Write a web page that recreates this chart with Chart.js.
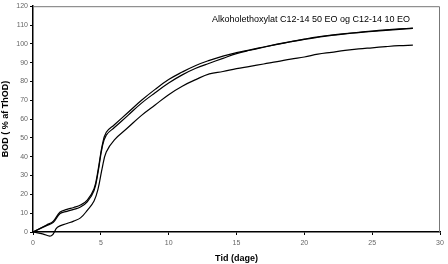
<!DOCTYPE html>
<html>
<head>
<meta charset="utf-8">
<script src="https://cdn.jsdelivr.net/npm/chart.js@4/dist/chart.umd.min.js"></script>
<style>
  html, body { margin: 0; padding: 0; background: #fff; }
  #wrap { width: 448px; height: 264px; }
</style>
</head>
<body>
<div id="wrap"><canvas id="graphic" width="448" height="264"></canvas></div>
<script>
// Data
const daysAB = [0, 1, 1.5, 2, 2.5, 3, 3.5, 4, 4.5, 4.8, 5.1, 5.4, 6, 7, 8, 9, 10, 11, 12, 13, 14, 15, 16, 17, 18, 19, 20, 21, 22, 23, 24, 25, 26, 27, 28];
const seriesA = [0, 3.7, 5.8, 10.6, 12, 13, 14.3, 17, 23, 33, 46, 53, 57, 63.5, 70, 75.8, 81, 85, 88.5, 91.2, 93.5, 95.3, 96.8, 98.3, 99.8, 101.2, 102.5, 103.7, 104.7, 105.4, 106.1, 106.8, 107.4, 107.9, 108.4];
const seriesB = [0, 3.4, 5.2, 9.8, 11, 12, 13.3, 16, 22, 32, 45, 51.5, 55.5, 62, 68.5, 74, 79.2, 83.5, 87, 89.7, 92.3, 94.8, 96.6, 98.2, 99.7, 101.1, 102.4, 103.5, 104.5, 105.3, 106, 106.6, 107.2, 107.7, 108.2];
const daysC = [0, 0.7, 1.35, 1.8, 2.5, 3, 3.5, 4, 4.5, 4.8, 5.1, 5.4, 6, 7, 8, 9, 10, 11, 12, 13, 14, 15, 16, 17, 18, 19, 20, 21, 22, 23, 24, 25, 26, 27, 28];
const seriesC = [0, -1, -2, 2.5, 4.5, 5.8, 7.5, 11.5, 16.5, 23, 34, 42.5, 49, 55.5, 62, 67.5, 73, 77.5, 81, 84, 85.3, 86.8, 88, 89.3, 90.5, 91.9, 93, 94.5, 95.5, 96.5, 97.3, 97.9, 98.5, 99, 99.3];

const xTicks = [0, 5, 10, 15, 20, 25, 30];
const yTicks = [0, 10, 20, 30, 40, 50, 60, 70, 80, 90, 100, 110, 120];
const label = 'Alkoholethoxylat C12-14 50 EO og C12-14 10 EO';

const toPoints = (xs, ys) => xs.map((x, i) => ({ x: x, y: ys[i] }));

const lineStyle = {
  borderColor: '#000',
  borderWidth: 1.2,
  pointRadius: 0,
  tension: 0.4,
  fill: false,
  clip: false
};

// frame + label
const framePlugin = {
  id: 'frame',
  afterDraw(chart) {
    const { ctx, chartArea: a } = chart;
    ctx.save();
    ctx.strokeStyle = '#777';
    ctx.lineWidth = 1;
    ctx.beginPath();
    ctx.moveTo(a.left, a.top + 0.5);
    ctx.lineTo(a.right - 0.5, a.top + 0.5);
    ctx.lineTo(a.right - 0.5, a.bottom);
    ctx.stroke();
    ctx.fillStyle = '#000';
    ctx.font = '9px "Liberation Sans", Arial, sans-serif';
    ctx.textBaseline = 'middle';
    ctx.fillText(label, 212, 20);
    ctx.restore();
  }
};

const tickFont = { family: '"Liberation Sans", Arial, sans-serif', size: 7 };
const titleFont = { family: '"Liberation Sans", Arial, sans-serif', size: 9, weight: 'bold' };

new Chart(document.querySelector('#graphic'), {
  type: 'line',
  data: {
    datasets: [
      Object.assign({ label: 'A', data: toPoints(daysAB, seriesA) }, lineStyle),
      Object.assign({ label: 'B', data: toPoints(daysAB, seriesB) }, lineStyle),
      Object.assign({ label: 'C', data: toPoints(daysC, seriesC) }, lineStyle)
    ]
  },
  options: {
    responsive: false,
    animation: false,
    layout: { padding: { top: 5, right: 8, left: 0, bottom: 0 } },
    plugins: { legend: { display: false }, tooltip: { enabled: false } },
    scales: {
      x: {
        type: 'linear',
        min: 0,
        max: 30,
        afterBuildTicks: (s) => { s.ticks = xTicks.map(v => ({ value: v })); },
        afterFit: (s) => { s.height = 32; },
        grid: { drawOnChartArea: false, tickLength: 3, color: '#000' },
        border: { color: '#000', width: 1.5 },
        ticks: { font: tickFont, color: '#666', padding: 4, maxRotation: 0 },
        title: { display: true, text: 'Tid (dage)', font: titleFont, color: '#000', padding: 0 }
      },
      y: {
        min: 0,
        max: 120,
        afterBuildTicks: (s) => { s.ticks = yTicks.map(v => ({ value: v })); },
        afterFit: (s) => { s.width = 33; },
        grid: { drawOnChartArea: false, tickLength: 3, color: '#000' },
        border: { color: '#000', width: 1.5 },
        ticks: { font: tickFont, color: '#666', padding: 2 },
        title: { display: true, text: 'BOD ( % af ThOD)', font: titleFont, color: '#000', padding: 0 }
      }
    }
  },
  plugins: [framePlugin]
});
</script>
</body>
</html>
